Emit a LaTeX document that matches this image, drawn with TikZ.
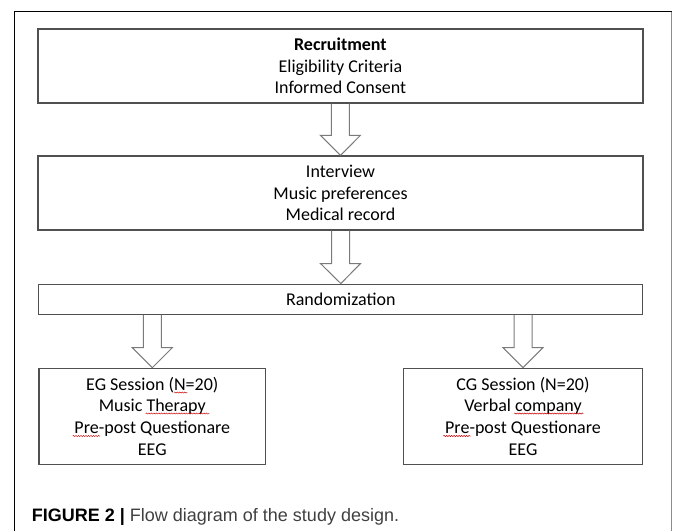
\documentclass[tikz,border=0pt]{standalone}
\usepackage{fontspec}
\setmainfont{Carlito}
\newfontfamily\capfont{Liberation Sans}
\usetikzlibrary{calc,decorations.pathmorphing}
\definecolor{boxgray}{HTML}{505050}
\definecolor{arrowgray}{HTML}{7A7A7A}
\begin{document}
\begin{tikzpicture}[x=1pt,y=-1pt]
\tikzstyle{stage}=[draw=boxgray, line width=1.3pt, inner sep=0pt, align=center, font=\fontsize{18}{21.7}\selectfont]
\tikzstyle{blockarrow}=[draw=arrowgray, line width=1pt, to path={let \p1=(\tikztostart), \p2=(\tikztotarget) in (\x1-9pt,\y1) -- (\x1-9pt,\y2+20pt) -- (\x1-20pt,\y2+20pt) -- (\x2,\y2) -- (\x1+20pt,\y2+20pt) -- (\x1+9pt,\y2+20pt) -- (\x1+9pt,\y1)}]
\tikzstyle{typo}=[red!80!black, line width=0.5pt, decorate, decoration={snake, amplitude=0.6pt, segment length=2.5pt}]
\useasboundingbox (0,0) rectangle (674,531);
\draw [black, line width=0.9pt] (14,531) -- (14,11.5) -- (671.5,11.5);
\draw [black!45, line width=1.8pt] (671.5,11.5) -- (671.5,531);
\node [stage, minimum width=605pt, minimum height=74pt] (rec) at (340.4,66) {\textbf{Recruitment}\\Eligibility Criteria\\Informed Consent};
\node [stage, minimum width=605pt, minimum height=74pt] (intv) at (340.5,193) {Interview\\Music preferences\\Medical record};
\node [stage, minimum width=604pt, minimum height=30pt] (rand) at (340.8,299.2) {Randomization};
\node [stage, minimum width=226.7pt, minimum height=96pt] (eg) at (152.3,416.3) {EG Session (N=20)\\Music Therapy\\Pre-post Questionare\\EEG};
\node [stage, minimum width=239.4pt, minimum height=96pt] (cg) at (523,416.3) {CG Session (N=20)\\Verbal company\\Pre-post Questionare\\EEG};
\draw [blockarrow] (rec.south) to (intv.north);
\draw [blockarrow] (intv.south) to (rand.north);
\draw [blockarrow] (rand.south -| eg.north) to (eg.north);
\draw [blockarrow] (rand.south -| cg.north) to (cg.north);
\draw [typo] (174,392.5) -- (187.3,392.5);
\draw [typo] (145.7,413.5) -- (209.3,413.5);
\draw [typo] (72.7,436) -- (100,436);
\draw [typo] (514,413.5) -- (583.3,413.5);
\draw [typo] (443.3,436) -- (470.7,436);
\node [anchor=base west, inner sep=0pt, text=black!75, font=\capfont\fontsize{18}{21}\selectfont] (cap) at (31.7,521.5) {\textcolor{black}{\textbf{FIGURE 2 |}} Flow diagram of the study design.};
\end{tikzpicture}
\end{document}
